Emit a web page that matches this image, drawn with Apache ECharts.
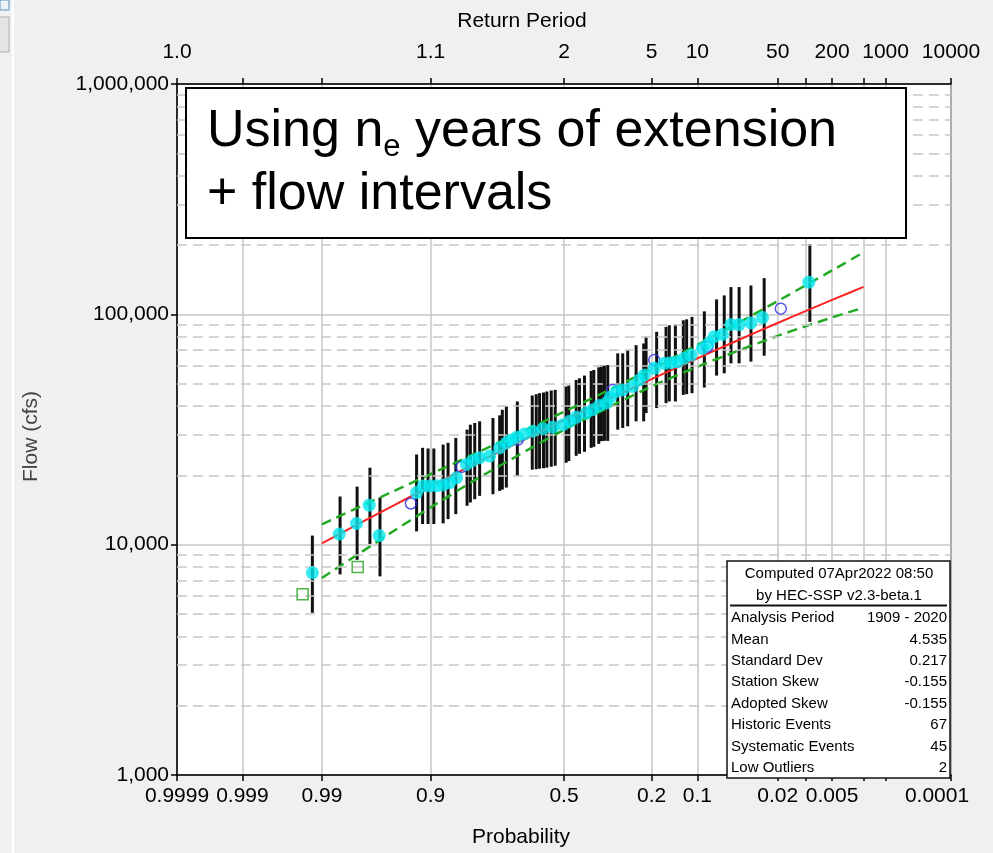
<!DOCTYPE html>
<html>
<head>
<meta charset="utf-8">
<title>Flow frequency plot</title>
<script src="https://cdn.jsdelivr.net/npm/echarts@6/dist/echarts.min.js"></script>
<style>
  html, body { margin: 0; padding: 0; background: #f0f0f0; }
  #chart { width: 993px; height: 853px; }
</style>
</head>
<body>
<div id="chart"></div>
<script>
// ---- Axis ticks (exceedance probability) and their labels ----
const probTicks = [0.9999, 0.999, 0.99, 0.9, 0.5, 0.2, 0.1, 0.02, 0.01, 0.005, 0.002, 0.001, 0.0001];
const probLabels = ['0.9999', '0.999', '0.99', '0.9', '0.5', '0.2', '0.1', '0.02', '', '0.005', '', '', '0.0001'];
const returnPeriodLabels = ['1.0', '', '', '1.1', '2', '5', '10', '50', '', '200', '', '1000', '10000'];
const minorFlows = [2000, 3000, 4000, 5000, 6000, 7000, 8000, 9000,
  20000, 30000, 40000, 50000, 60000, 70000, 80000, 90000,
  200000, 300000, 400000, 500000, 600000, 700000, 800000, 900000];

// ---- Computed frequency curve and confidence limits ----
const curveProb = [0.99, 0.95, 0.9, 0.8, 0.5, 0.2, 0.1, 0.05, 0.02, 0.01, 0.005, 0.002];
const curveFlow = [10130, 14750, 17930, 22610, 34720, 52370, 64440, 76230, 91730, 103500, 115500, 131500];
const upperFlow = [12260, 17010, 20260, 25010, 37730, 57940, 73680, 90230, 114200, 134000, 155100, 185800];
const lowerFlow = [7170, 11400, 14510, 19240, 31520, 48640, 59190, 68760, 80640, 88920, 96940, 106900];

// ---- Plotted events ----
const obsProb = [0.9922, 0.9846, 0.9769, 0.9694, 0.9621, 0.9217, 0.912, 0.9016, 0.8897, 0.8773,
  0.864, 0.849, 0.8257, 0.809, 0.7912, 0.7625, 0.7318, 0.7102, 0.6938, 0.6745,
  0.6475, 0.6177, 0.5806, 0.5428, 0.5046, 0.4789, 0.4534, 0.4156, 0.3911, 0.3667,
  0.3427, 0.3277, 0.3082, 0.2863, 0.2546, 0.2344, 0.2199, 0.1929, 0.1677, 0.1521,
  0.1375, 0.1241, 0.1113, 0.0917, 0.0828, 0.0746, 0.0639, 0.0543, 0.0462, 0.0362,
  0.0282, 0.00931];
const obsFlow = [7550, 11120, 12370, 14840, 10950, 16840, 17990, 17990, 18000, 18170,
  18590, 19540, 22300, 23210, 23840, 24240, 26330, 27670, 28500, 29280,
  30250, 31080, 31890, 32340, 33180, 34320, 35720, 37270, 38520, 40240,
  41170, 43700, 46240, 46990, 48600, 51900, 54530, 58290, 61260, 61700,
  62320, 64390, 66530, 71120, 74720, 79910, 81740, 90260, 90260, 91810,
  96780, 137970];

const openProb = [0.9294, 0.8379, 0.6711, 0.3199, 0.1929, 0.0840, 0.01862];
const openFlow = [15090, 21740, 28590, 46990, 63310, 72330, 105800];

const lowOutlierProb = [0.994, 0.9763];
const lowOutlierFlow = [6090, 7990];

// ---- Flow intervals ----
const intervalProb = [0.9922, 0.9843, 0.9766, 0.9689, 0.9615, 0.9217, 0.9129, 0.9043, 0.8945, 0.8773,
  0.8674, 0.8508, 0.8242, 0.8159, 0.8045, 0.7912, 0.7526, 0.7318, 0.7233, 0.7102,
  0.6731, 0.6199, 0.6051, 0.5928, 0.578, 0.5655, 0.5488, 0.5337, 0.4916, 0.4816,
  0.4534, 0.4409, 0.422, 0.397, 0.3874, 0.3692, 0.3595, 0.3488, 0.3371, 0.3028,
  0.2863, 0.2702, 0.2442, 0.2219, 0.2151, 0.1866, 0.1634, 0.1558, 0.1422, 0.1258,
  0.1193, 0.1093, 0.0887, 0.0713, 0.0618, 0.0543, 0.0462, 0.0362, 0.0272, 0.00907];
const intervalLow = [5060, 7430, 8590, 10070, 7285, 11420, 12290, 12290, 12290, 12370,
  12910, 13570, 14750, 15240, 15750, 16290, 16550, 17120, 17340, 17690,
  19870, 21160, 21270, 21380, 21480, 21590, 21800, 22010, 22680, 23070,
  24310, 24800, 25300, 26330, 26590, 27390, 28140, 28220, 28220, 31570,
  32120, 32660, 34320, 34320, 37270, 39170, 41170, 41860, 41860, 44710,
  45020, 45470, 48110, 54210, 55470, 61260, 61260, 62320, 66140, 92730];
const intervalHigh = [10950, 16180, 17870, 21590, 16020, 24630, 26330, 26150, 26150, 27200,
  27670, 29070, 31570, 33180, 33750, 34320, 35460, 36430, 38520, 39840,
  41860, 44440, 45020, 45470, 45790, 46240, 46700, 46990, 48600, 49090,
  51900, 52780, 54210, 56750, 57320, 58880, 60060, 59880, 60240, 67680,
  67680, 69920, 73480, 74720, 79910, 83950, 88220, 89640, 90260, 94210,
  95150, 97450, 103000, 116100, 120800, 131300, 131300, 133400, 143600, 201900];

// ---- Summary statistics ----
const statsHeader = ['Computed 07Apr2022 08:50', 'by HEC-SSP v2.3-beta.1'];
const statsNames = ['Analysis Period', 'Mean', 'Standard Dev', 'Station Skew', 'Adopted Skew',
  'Historic Events', 'Systematic Events', 'Low Outliers'];
const statsValues = ['1909 - 2020', '4.535', '0.217', '-0.155', '-0.155', '67', '45', '2'];

// Inverse standard normal CDF (Acklam) – turns a probability into a normal-scale coordinate
function normInv(p) {
  const a = [-3.969683028665376e+01, 2.209460984245205e+02, -2.759285104469687e+02, 1.383577518672690e+02, -3.066479806614716e+01, 2.506628277459239e+00];
  const b = [-5.447609879822406e+01, 1.615858368580409e+02, -1.556989798598866e+02, 6.680131188771972e+01, -1.328068155288572e+01];
  const c = [-7.784894002430293e-03, -3.223964580411365e-01, -2.400758277161838e+00, -2.549732539343734e+00, 4.374664141464968e+00, 2.938163982698783e+00];
  const d = [7.784695709041462e-03, 3.224671290700398e-01, 2.445134137142996e+00, 3.754408661907416e+00];
  const pl = 0.02425;
  let q, r;
  if (p < pl) {
    q = Math.sqrt(-2 * Math.log(p));
    return (((((c[0] * q + c[1]) * q + c[2]) * q + c[3]) * q + c[4]) * q + c[5]) / ((((d[0] * q + d[1]) * q + d[2]) * q + d[3]) * q + 1);
  }
  if (p <= 1 - pl) {
    q = p - 0.5; r = q * q;
    return (((((a[0] * r + a[1]) * r + a[2]) * r + a[3]) * r + a[4]) * r + a[5]) * q / (((((b[0] * r + b[1]) * r + b[2]) * r + b[3]) * r + b[4]) * r + 1);
  }
  q = Math.sqrt(-2 * Math.log(1 - p));
  return -(((((c[0] * q + c[1]) * q + c[2]) * q + c[3]) * q + c[4]) * q + c[5]) / ((((d[0] * q + d[1]) * q + d[2]) * q + d[3]) * q + 1);
}
// exceedance probability -> position on the normal probability scale
function zOf(p) { return -normInv(p); }

const tickZ = probTicks.map(zOf);
const xMin = tickZ[0];
const xMax = tickZ[tickZ.length - 1];
const bottomLabelZ = tickZ.filter((z, i) => probLabels[i] !== '');
const topLabelZ = tickZ.filter((z, i) => returnPeriodLabels[i] !== '');

function nearestTick(v) {
  let best = 0, bd = Infinity;
  tickZ.forEach((t, i) => { const dd = Math.abs(t - v); if (dd < bd) { bd = dd; best = i; } });
  return best;
}

const FONT = '"Liberation Sans", Arial, sans-serif';
const pairs = (xs, ys) => xs.map((p, i) => [zOf(p), ys[i]]);

const chart = echarts.init(document.getElementById('chart'), null, { renderer: 'canvas', width: 993, height: 853 });

const statsGraphics = [];
statsGraphics.push({
  type: 'rect', z: 100,
  shape: { x: 727, y: 561, width: 223, height: 217 },
  style: { fill: '#fff', stroke: '#111', lineWidth: 1.5 }
});
statsHeader.forEach((t, i) => {
  statsGraphics.push({
    type: 'text', z: 101, x: 839, y: 574 + i * 21.5,
    style: { text: t, fontSize: 15, fontFamily: FONT, fill: '#000', align: 'center', verticalAlign: 'middle' }
  });
});
statsGraphics.push({
  type: 'line', z: 101,
  shape: { x1: 730, y1: 605.5, x2: 947, y2: 605.5 },
  style: { stroke: '#111', lineWidth: 2 }
});
statsNames.forEach((t, i) => {
  const y = 618 + i * 21.4;
  statsGraphics.push({
    type: 'text', z: 101, x: 731, y: y,
    style: { text: t, fontSize: 15, fontFamily: FONT, fill: '#000', align: 'left', verticalAlign: 'middle' }
  });
  statsGraphics.push({
    type: 'text', z: 101, x: 947, y: y,
    style: { text: statsValues[i], fontSize: 15, fontFamily: FONT, fill: '#000', align: 'right', verticalAlign: 'middle' }
  });
});

const option = {
  backgroundColor: '#f0f0f0',
  animation: false,
  grid: {
    left: 177, top: 84, width: 774, height: 695,
    show: true, backgroundColor: '#ffffff', borderColor: '#333', borderWidth: 1.5,
    containLabel: false
  },
  xAxis: [
    {
      type: 'value', position: 'bottom', min: xMin, max: xMax,
      axisLine: { show: true, onZero: false, lineStyle: { color: '#000', width: 1.5 } },
      axisTick: { show: true, customValues: tickZ, length: 6, lineStyle: { color: '#000', width: 1.5 } },
      axisLabel: {
        customValues: bottomLabelZ, margin: 11, fontSize: 21, fontFamily: FONT, color: '#000',
        formatter: function (v) {
          const t = probLabels[nearestTick(v)];
          return t === '0.0001' ? '{r|' + t + '}' : t;
        },
        rich: { r: { fontSize: 21, fontFamily: FONT, color: '#000', padding: [0, 28, 0, 0] } }
      },
      splitLine: { show: true, lineStyle: { color: '#c6c6c6', width: 1.5 } },
      name: 'Probability', nameLocation: 'middle', nameGap: 52, nameMoveOverlap: false,
      nameTextStyle: { fontSize: 21, fontFamily: FONT, color: '#000', padding: [0, 86, 0, 0] }
    },
    {
      type: 'value', position: 'top', min: xMin, max: xMax,
      axisLine: { show: true, onZero: false, lineStyle: { color: '#000', width: 1.5 } },
      axisTick: { show: true, customValues: tickZ, length: 6, lineStyle: { color: '#000', width: 1.5 } },
      axisLabel: {
        customValues: topLabelZ, margin: 21, fontSize: 21, fontFamily: FONT, color: '#000',
        formatter: function (v) { return returnPeriodLabels[nearestTick(v)]; }
      },
      splitLine: { show: false },
      name: 'Return Period', nameLocation: 'middle', nameGap: 52, nameMoveOverlap: false,
      nameTextStyle: { fontSize: 21, fontFamily: FONT, color: '#000', padding: [0, 84, 0, 0] }
    }
  ],
  yAxis: {
    type: 'log', logBase: 10, min: 1000, max: 1000000,
    axisLine: { show: true, onZero: false, lineStyle: { color: '#000', width: 1.5 } },
    axisTick: { show: true, length: 6, lineStyle: { color: '#000', width: 1.5 } },
    axisLabel: {
      margin: 8, fontSize: 21, fontFamily: FONT, color: '#000',
      formatter: function (v) { return Math.round(v).toLocaleString('en-US'); }
    },
    splitLine: { show: true, lineStyle: { color: '#c6c6c6', width: 1.5 } },
    name: 'Flow (cfs)', nameLocation: 'middle', nameGap: 135, nameRotate: 90, nameMoveOverlap: false,
    nameTextStyle: { fontSize: 21, fontFamily: FONT, color: '#444', padding: [0, 14, 0, 0] }
  },
  series: [
    {
      name: 'minor grid', type: 'line', data: [], silent: true, z: 1,
      markLine: {
        silent: true, symbol: ['none', 'none'], label: { show: false },
        lineStyle: { color: '#c8c8c8', type: [10, 6], width: 1.5 },
        data: minorFlows.map(v => ({ yAxis: v }))
      }
    },
    {
      name: 'Flow intervals', type: 'custom', z: 3, clip: true,
      data: intervalProb.map((p, i) => [zOf(p), intervalLow[i], intervalHigh[i]]),
      encode: { x: 0, y: [1, 2] },
      renderItem: function (params, api) {
        const x = api.value(0);
        const lo = api.coord([x, api.value(1)]);
        const hi = api.coord([x, api.value(2)]);
        return {
          type: 'rect',
          shape: { x: lo[0] - 1.5, y: hi[1], width: 3, height: lo[1] - hi[1] },
          style: { fill: '#111' }
        };
      }
    },
    {
      name: '5% Confidence Limit', type: 'line', z: 4, showSymbol: false, smooth: 0.2,
      data: pairs(curveProb, upperFlow),
      lineStyle: { color: '#22aa22', width: 2.5, type: [10, 6] }
    },
    {
      name: '95% Confidence Limit', type: 'line', z: 4, showSymbol: false, smooth: 0.2,
      data: pairs(curveProb, lowerFlow),
      lineStyle: { color: '#22aa22', width: 2.5, type: [10, 6] }
    },
    {
      name: 'Computed Curve', type: 'line', z: 5, showSymbol: false, smooth: 0.2,
      data: pairs(curveProb, curveFlow),
      lineStyle: { color: '#ff2222', width: 2 }
    },
    {
      name: 'Low Outliers', type: 'scatter', z: 6, symbol: 'rect', symbolSize: 11,
      data: pairs(lowOutlierProb, lowOutlierFlow),
      itemStyle: { color: 'rgba(0,0,0,0)', borderColor: '#1fa31f', borderWidth: 1.5 }
    },
    {
      name: 'Historic Events', type: 'scatter', z: 6, symbol: 'circle', symbolSize: 11,
      data: pairs(openProb, openFlow),
      itemStyle: { color: 'rgba(0,0,0,0)', borderColor: '#2b2be6', borderWidth: 1.5 }
    },
    {
      name: 'Observed Events', type: 'scatter', z: 7, symbol: 'circle', symbolSize: 13,
      data: pairs(obsProb, obsFlow),
      itemStyle: { color: '#00e8f0' }
    }
  ],
  graphic: [
    // left edge of the window frame
    { type: 'rect', z: 100, shape: { x: 12, y: 0, width: 2, height: 853 }, style: { fill: '#ffffff' } },
    { type: 'rect', z: 100, shape: { x: 0, y: 0, width: 9, height: 10 }, style: { fill: '#eef3f8', stroke: '#5a8fc0', lineWidth: 1 } },
    { type: 'rect', z: 100, shape: { x: -1, y: 17, width: 10, height: 35 }, style: { fill: '#e4e4e4', stroke: '#b0b0b0', lineWidth: 1 } },
    // annotation box
    {
      type: 'rect', z: 100,
      shape: { x: 186, y: 88, width: 720, height: 150 },
      style: { fill: '#ffffff', stroke: '#000', lineWidth: 2 }
    },
    {
      type: 'text', z: 101, x: 207, y: 100,
      style: {
        text: '{m|Using n}{s|e}{m| years of extension}\n{m|+ flow intervals}',
        verticalAlign: 'top', align: 'left',
        rich: {
          m: { fontSize: 52, lineHeight: 63, fontFamily: FONT, fill: '#000' },
          s: { fontSize: 31, lineHeight: 20, verticalAlign: 'bottom', fontFamily: FONT, fill: '#000' }
        }
      }
    }
  ].concat(statsGraphics)
};

chart.setOption(option);
</script>
</body>
</html>
